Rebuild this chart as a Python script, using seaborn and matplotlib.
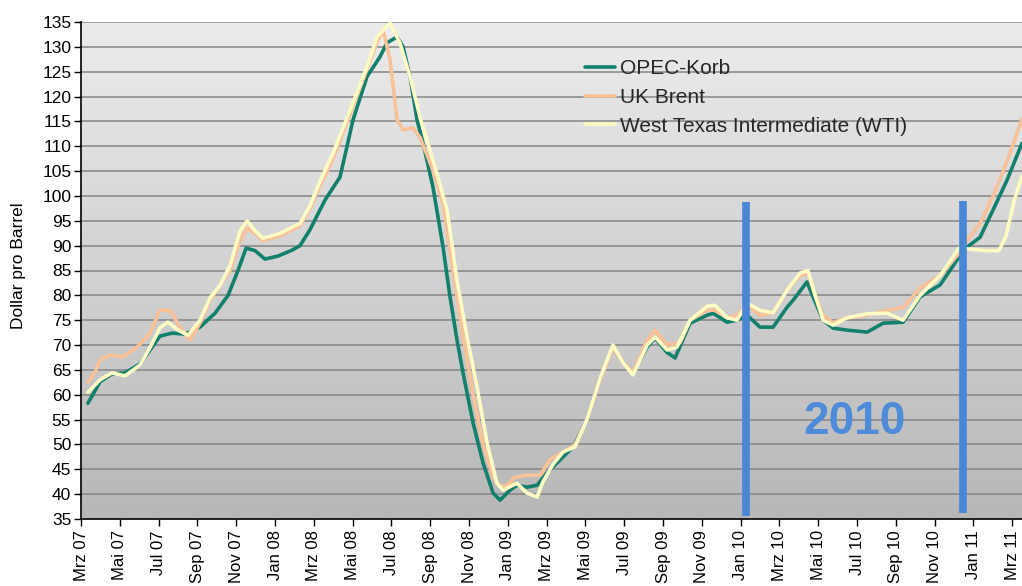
import numpy as np
import pandas as pd
import matplotlib
matplotlib.use("Agg")
import matplotlib.pyplot as plt
import seaborn as sns
from matplotlib.colors import LinearSegmentedColormap
from matplotlib.lines import Line2D
from matplotlib.transforms import ScaledTranslation

# ---------------- data (months counted from Mrz 07) ----------------
tick_labels = ["Mrz 07", "Mai 07", "Jul 07", "Sep 07", "Nov 07", "Jan 08", "Mrz 08",
               "Mai 08", "Jul 08", "Sep 08", "Nov 08", "Jan 09", "Mrz 09", "Mai 09",
               "Jul 09", "Sep 09", "Nov 09", "Jan 10", "Mrz 10", "Mai 10", "Jul 10",
               "Sep 10", "Nov 10", "Jan 11", "Mrz 11"]
tick_months = list(range(0, 49, 2))

opec_months = [0.36, 0.98, 1.6, 2.27, 3.04, 3.56, 4.07, 4.69, 5.36, 6.13, 6.91, 7.58, 8.09,
               8.51, 8.97, 9.48, 10.15, 10.88, 11.29, 11.8, 12.58, 13.35, 14.02, 14.74,
               15.41, 15.77, 16.29, 16.6, 16.96, 17.32, 17.63, 18.14, 18.66, 19.02, 19.38,
               19.69, 20.21, 20.72, 21.24, 21.6, 22.11, 22.47, 22.99, 23.51, 24.02, 24.69,
               25.36, 26.08, 26.75, 27.42, 27.94, 28.45, 29.18, 29.59, 30.21, 30.62, 31.39,
               32.27, 32.58, 33.3, 33.81, 34.33, 35.0, 35.67, 36.39, 36.7, 37.42, 37.73,
               38.25, 38.76, 39.48, 40.52, 41.34, 42.37, 43.25, 44.28, 45.15, 45.67, 46.34,
               47.01, 47.73, 48.5]
opec_values = [58.3, 62.6, 64.2, 64.4, 66.2, 69.0, 71.8, 72.4, 72.2, 73.6, 76.4, 80.0, 85.0,
               89.5, 89.0, 87.3, 87.9, 89.1, 90.0, 93.2, 99.2, 103.8, 115.3, 124.0,
               128.0, 130.8, 132.0, 130.0, 124.0, 115.3, 110.6, 101.8, 89.7, 79.7, 71.0,
               64.4, 54.3, 46.3, 40.2, 38.8, 40.8, 41.8, 41.4, 41.8, 44.3, 46.9,
               49.5, 54.9, 63.4, 69.6, 66.4, 64.4, 69.6, 71.4, 68.5, 67.4, 74.4,
               76.0, 76.4, 74.6, 75.0, 76.0, 73.6, 73.6, 77.6, 79.0, 82.7, 79.7,
               75.0, 73.4, 73.0, 72.6, 74.4, 74.6, 79.7, 82.1, 87.1, 89.7, 91.7,
               97.2, 103.2, 110.6]

brent_months = [0.36, 0.72, 0.98, 1.49, 2.16, 2.89, 3.56, 4.07, 4.59, 5.1, 5.62, 6.13, 6.65,
                7.16, 7.68, 8.2, 8.56, 8.97, 9.38, 10.26, 11.29, 11.8, 12.32, 12.99, 13.87,
                14.74, 15.26, 15.57, 15.93, 16.29, 16.6, 17.11, 17.47, 18.14, 18.66, 19.18,
                19.69, 20.21, 20.72, 21.24, 21.6, 21.96, 22.37, 22.99, 23.66, 24.18, 24.85,
                25.46, 26.08, 26.75, 27.42, 27.94, 28.45, 29.18, 29.59, 30.21, 30.88, 31.39,
                32.27, 32.68, 33.3, 33.81, 34.33, 35.0, 35.67, 36.39, 37.06, 37.47, 37.84,
                38.25, 38.76, 39.48, 40.52, 41.55, 42.37, 43.25, 44.28, 45.15, 45.67, 46.34,
                47.01, 47.73, 48.5]
brent_values = [62.5, 64.5, 67.0, 68.0, 67.6, 69.6, 72.4, 77.0, 77.0, 73.6, 71.0, 74.4, 79.0,
                82.0, 85.0, 91.0, 93.5, 92.5, 91.0, 92.0, 94.0, 97.5, 102.0, 107.5, 116.5,
                125.5, 131.0, 133.4, 127.4, 115.3, 113.3, 113.7, 111.8, 105.2, 98.6, 85.0,
                72.0, 60.0, 50.0, 43.5, 41.5, 41.8, 43.4, 43.8, 43.8, 47.0, 48.5,
                50.0, 55.0, 63.0, 69.5, 66.4, 64.6, 71.0, 73.0, 70.0, 70.5, 75.0,
                77.0, 77.0, 75.5, 76.0, 78.0, 76.0, 76.5, 81.0, 84.0, 84.5, 80.0,
                76.0, 74.5, 75.5, 76.0, 77.0, 77.5, 81.5, 84.0, 88.0, 91.0, 94.5,
                100.0, 107.0, 115.5]

wti_months = [0.36, 0.98, 1.6, 2.27, 3.04, 3.56, 4.07, 4.48, 5.0, 5.52, 6.13, 6.65, 7.16,
              7.68, 8.2, 8.56, 8.97, 9.38, 10.26, 11.29, 11.8, 12.32, 12.99, 13.87, 14.74,
              15.26, 15.93, 16.44, 16.96, 17.47, 18.14, 18.87, 19.38, 19.9, 20.41, 20.93,
              21.44, 21.75, 22.47, 22.99, 23.51, 23.81, 24.33, 24.85, 25.46, 26.08, 26.75,
              27.42, 27.94, 28.45, 29.18, 29.59, 30.21, 30.72, 31.39, 32.27, 32.68, 33.3,
              33.81, 34.33, 35.0, 35.67, 36.39, 37.06, 37.47, 37.84, 38.25, 38.76, 39.48,
              40.52, 41.55, 42.37, 43.25, 44.28, 45.25, 45.82, 46.58, 47.32, 47.68, 48.09,
              48.5]
wti_values = [60.5, 63.0, 64.4, 63.8, 66.0, 69.5, 73.5, 74.6, 73.0, 72.0, 75.0, 79.5, 82.0,
              86.0, 93.0, 95.0, 93.0, 91.5, 92.5, 94.5, 98.0, 103.0, 108.6, 117.3, 126.0,
              132.0, 134.8, 130.8, 124.0, 115.9, 107.2, 97.2, 83.0, 71.6, 61.6, 50.3,
              42.2, 40.8, 42.2, 40.2, 39.4, 42.5, 46.0, 48.5, 49.5, 55.0, 63.4,
              70.0, 66.4, 64.0, 70.0, 71.6, 69.0, 69.6, 75.0, 77.8, 78.0, 75.5,
              75.0, 78.4, 77.0, 76.5, 81.0, 84.5, 85.0, 80.0, 75.0, 74.0, 75.5,
              76.3, 76.4, 75.0, 80.0, 84.0, 89.5, 89.3, 89.0, 89.0, 92.0, 99.0,
              104.0]

series_names = ["OPEC-Korb", "UK Brent", "West Texas Intermediate (WTI)"]
series_colors = ["#13806c", "#f8c197", "#fdfbc4"]

df = pd.concat([
    pd.DataFrame({"month": opec_months, "value": opec_values, "series": series_names[0]}),
    pd.DataFrame({"month": brent_months, "value": brent_values, "series": series_names[1]}),
    pd.DataFrame({"month": wti_months, "value": wti_values, "series": series_names[2]}),
], ignore_index=True)

# ---------------- figure ----------------
sns.set_style("ticks")
plt.rcParams["font.family"] = ["Liberation Sans Narrow", "Liberation Sans", "DejaVu Sans"]

W, H = 1022, 586
fig = plt.figure(figsize=(W / 100, H / 100), dpi=100)
fig.patch.set_facecolor("white")
ax = fig.add_axes([81 / W, 1 - 519 / H, 1 - 81 / W, (519 - 22) / H])

# gradient background
cmap = LinearSegmentedColormap.from_list("bg", ["#b7b7b7", "#d2d2d2", "#ececec"])
ax.imshow(np.linspace(0, 1, 256).reshape(-1, 1), extent=[0, 1, 0, 1],
          transform=ax.transAxes, cmap=cmap, aspect="auto", origin="lower", zorder=0)

for v in range(40, 136, 5):
    ax.axhline(v, color="#858585", lw=1.1, zorder=1)

sns.lineplot(data=df, x="month", y="value", hue="series", hue_order=series_names,
             palette=dict(zip(series_names, series_colors)), sort=False, estimator=None,
             lw=2.6, ax=ax, legend=False, zorder=3)

ax.set_xlim(0, 48.5)
ax.set_ylim(35, 135)
ax.set_yticks(range(35, 136, 5))
ax.set_xticks(tick_months)
ax.set_xticklabels(tick_labels, rotation=90, va="top", ha="center")
for lab in ax.get_xticklabels():
    lab.set_transform(lab.get_transform() + ScaledTranslation(5 / 100, 0, fig.dpi_scale_trans))
ax.tick_params(axis="both", direction="out", length=5, width=1, color="black",
               colors="black")
ax.tick_params(axis="x", labelsize=12, pad=3)
ax.tick_params(axis="y", labelsize=12.5, pad=2)
ax.set_xlabel("")
ax.set_ylabel("Dollar pro Barrel", fontsize=12.5, color="black")
ax.yaxis.set_label_coords((26 - 81) / 941, 0.51)

for s in ["top", "right"]:
    ax.spines[s].set_visible(False)
for s in ["left", "bottom"]:
    ax.spines[s].set_color("black")
    ax.spines[s].set_linewidth(1.2)
    ax.spines[s].set_zorder(5)

# period markers for 2010
ax.vlines([34.28], 35.6, 98.8, color="#4a86d6", lw=5.5, zorder=4)
ax.vlines([45.46], 36.2, 99.0, color="#4a86d6", lw=5.5, zorder=4)
ax.text(39.85, 54.5, "2010", color="#4f8bd8", fontsize=33, fontweight="bold",
        ha="center", va="center", family=["Liberation Sans", "DejaVu Sans"], zorder=4)

handles = [Line2D([], [], color=c, lw=2.6) for c in series_colors]
leg = ax.legend(handles, series_names, loc="upper left",
                bbox_to_anchor=(585 / W, 1 - 59 / H), bbox_transform=fig.transFigure,
                frameon=False, handlelength=1.45, handletextpad=0.25,
                labelspacing=0.47, borderpad=0, borderaxespad=0,
                prop={"family": ["Liberation Sans", "DejaVu Sans"], "size": 15})

fig.savefig("out.png", dpi=100)
